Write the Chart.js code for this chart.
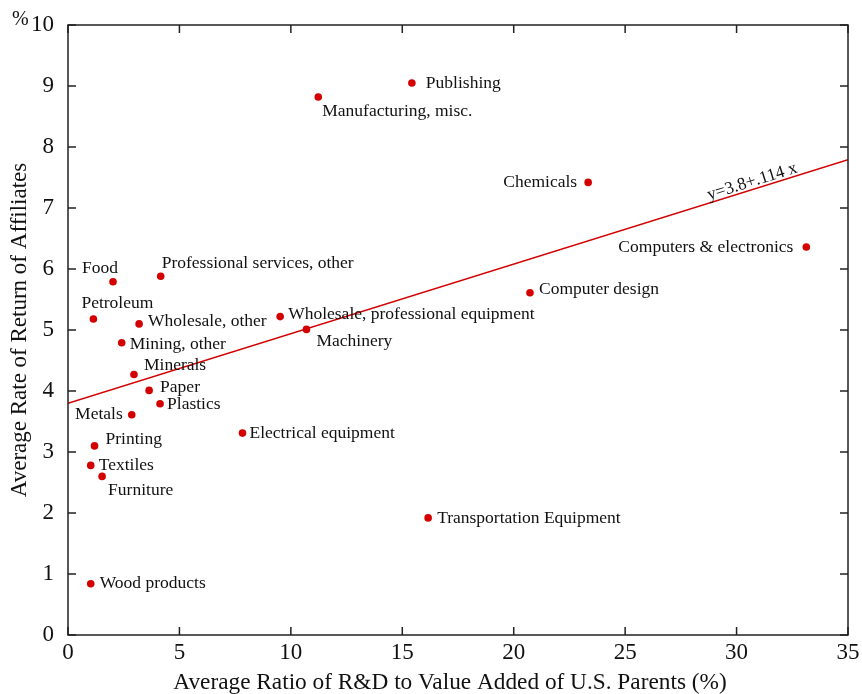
<!DOCTYPE html>
<html>
<head>
<meta charset="utf-8">
<script src="https://cdn.jsdelivr.net/npm/chart.js@4/dist/chart.umd.min.js"></script>
<style>
  html, body { margin: 0; padding: 0; background: #fff; }
  #wrap { width: 862px; height: 694px; }
</style>
</head>
<body>
<div id="wrap"><canvas id="c" width="862" height="694"></canvas></div>
<script>
// Industries, R&D intensity of U.S. parents (%) and affiliates' average rate of return (%)
const industries = [
  "Publishing", "Manufacturing, misc.", "Chemicals", "Computers & electronics",
  "Computer design", "Professional services, other", "Food", "Petroleum",
  "Wholesale, other", "Wholesale, professional equipment", "Machinery", "Mining, other",
  "Minerals", "Paper", "Plastics", "Metals", "Electrical equipment", "Printing",
  "Textiles", "Furniture", "Transportation Equipment", "Wood products"
];
const rdRatio = [
  15.43, 11.23, 23.34, 33.13,
  20.73, 4.16, 2.02, 1.14,
  3.19, 9.52, 10.70, 2.41,
  2.96, 3.64, 4.13, 2.86, 7.83, 1.19,
  1.02, 1.53, 16.16, 1.02
];
const returnRate = [
  9.05, 8.82, 7.42, 6.36,
  5.61, 5.88, 5.79, 5.18,
  5.10, 5.22, 5.01, 4.79,
  4.27, 4.01, 3.79, 3.61, 3.31, 3.10,
  2.78, 2.60, 1.92, 0.84
];
const xTicks = [0, 5, 10, 15, 20, 25, 30, 35];
const yTicks = [0, 1, 2, 3, 4, 5, 6, 7, 8, 9, 10];
const xTitle = "Average Ratio of R&D to Value Added of U.S. Parents (%)";
const yTitle = "Average Rate of Return of Affiliates";

// Fitted line y = 3.8 + .114 x
const fitIntercept = 3.8;
const fitSlope = 0.114;
const fitLabel = "y=3.8+.114 x";

// Label placement around each marker: [dx, dy, align]
const labelPlacement = {
  "Publishing": [14, 0, "left"],
  "Manufacturing, misc.": [4, 14, "left"],
  "Chemicals": [-11, 0, "right"],
  "Computers & electronics": [-13, 0, "right"],
  "Computer design": [9, -3, "left"],
  "Professional services, other": [1, -13, "left"],
  "Food": [-31, -13, "left"],
  "Petroleum": [-12, -16, "left"],
  "Wholesale, other": [9, -2, "left"],
  "Wholesale, professional equipment": [8, -2, "left"],
  "Machinery": [10, 12, "left"],
  "Mining, other": [8, 2, "left"],
  "Minerals": [10, -9, "left"],
  "Paper": [11, -3, "left"],
  "Plastics": [7, 1, "left"],
  "Metals": [-9, 0, "right"],
  "Electrical equipment": [7, 0, "left"],
  "Printing": [11, -6, "left"],
  "Textiles": [8, 0, "left"],
  "Furniture": [6, 14, "left"],
  "Transportation Equipment": [9, 1, "left"],
  "Wood products": [9, 0, "left"]
};

const SERIF = "'Liberation Serif', 'DejaVu Serif', serif";
const RED = "#d40000";
const INK = "#222";

const points = rdRatio.map((x, i) => ({ x: x, y: returnRate[i] }));
const fitLine = [0, 35].map(x => ({ x: x, y: fitIntercept + fitSlope * x }));

// Frame, inward ticks on all four sides, point labels, fit label, x title
const decorations = {
  id: "decorations",
  afterDatasetsDraw(chart) {
    const ctx = chart.ctx;
    const a = chart.chartArea;
    const xs = chart.scales.x, ys = chart.scales.y;
    ctx.save();
    ctx.strokeStyle = INK;
    ctx.lineWidth = 1.5;
    ctx.strokeRect(a.left, a.top, a.right - a.left, a.bottom - a.top);
    const tl = 8;
    ctx.beginPath();
    xTicks.forEach(v => {
      const px = xs.getPixelForValue(v);
      ctx.moveTo(px, a.bottom); ctx.lineTo(px, a.bottom - tl);
      ctx.moveTo(px, a.top); ctx.lineTo(px, a.top + tl);
    });
    yTicks.forEach(v => {
      const py = ys.getPixelForValue(v);
      ctx.moveTo(a.left, py); ctx.lineTo(a.left + tl, py);
      ctx.moveTo(a.right, py); ctx.lineTo(a.right - tl, py);
    });
    ctx.stroke();

    // point labels
    ctx.fillStyle = "#111";
    ctx.font = "17.5px " + SERIF;
    ctx.textBaseline = "middle";
    industries.forEach((name, i) => {
      const p = labelPlacement[name];
      const px = xs.getPixelForValue(rdRatio[i]);
      const py = ys.getPixelForValue(returnRate[i]);
      ctx.textAlign = p[2];
      ctx.fillText(name, px + p[0], py + p[1]);
    });

    // x axis title, set slightly left of the plot centre
    ctx.font = "23.3px " + SERIF;
    ctx.textAlign = "center";
    ctx.fillText(xTitle, (a.left + a.right) / 2 - 8, 683);

    // fit label along the line
    const x0 = 30.8;
    const lx = xs.getPixelForValue(x0);
    const ly = ys.getPixelForValue(fitIntercept + fitSlope * x0);
    const dpx = xs.getPixelForValue(35) - xs.getPixelForValue(0);
    const dpy = ys.getPixelForValue(fitIntercept + fitSlope * 35) - ys.getPixelForValue(fitIntercept);
    const ang = Math.atan2(dpy, dpx);
    ctx.translate(lx, ly);
    ctx.rotate(ang);
    ctx.textAlign = "center";
    ctx.textBaseline = "alphabetic";
    ctx.font = "17.5px " + SERIF;
    ctx.fillText(fitLabel, 0, -3);
    ctx.restore();

    // percent sign next to top tick
    ctx.save();
    ctx.fillStyle = "#111";
    ctx.font = "20px " + SERIF;
    ctx.textAlign = "left";
    ctx.textBaseline = "middle";
    ctx.fillText("%", 12, 20);
    ctx.restore();
  }
};

new Chart(document.getElementById("c"), {
  type: "scatter",
  data: {
    datasets: [
      {
        data: points,
        backgroundColor: RED,
        borderColor: RED,
        pointRadius: 3.8,
        pointHoverRadius: 3.8,
        borderWidth: 0
      },
      {
        type: "line",
        data: fitLine,
        borderColor: RED,
        borderWidth: 1.5,
        pointRadius: 0,
        fill: false,
        tension: 0
      }
    ]
  },
  plugins: [decorations],
  options: {
    responsive: false,
    animation: false,
    events: [],
    layout: { padding: { top: 25, right: 14, left: 0, bottom: 0 } },
    plugins: { legend: { display: false }, tooltip: { enabled: false } },
    scales: {
      x: {
        type: "linear",
        min: 0, max: 35,
        afterBuildTicks: s => { s.ticks = xTicks.map(v => ({ value: v })); },
        afterFit: s => { s.height = 59; s.paddingLeft = 0; s.paddingRight = 0; },
        grid: { display: false, drawTicks: false },
        border: { display: false },
        ticks: { color: "#111", font: { family: SERIF, size: 23 }, padding: 4 },
        title: { display: false }
      },
      y: {
        type: "linear",
        min: 0, max: 10,
        afterBuildTicks: s => { s.ticks = yTicks.map(v => ({ value: v })); },
        afterFit: s => { s.width = 68; s.paddingTop = 0; s.paddingBottom = 0; },
        grid: { display: false, drawTicks: false },
        border: { display: false },
        ticks: { color: "#111", font: { family: SERIF, size: 23 }, padding: 14 },
        title: {
          display: true,
          text: yTitle,
          color: "#111",
          font: { family: SERIF, size: 23 },
          padding: { top: 6, bottom: 0 }
        }
      }
    }
  }
});
</script>
</body>
</html>
